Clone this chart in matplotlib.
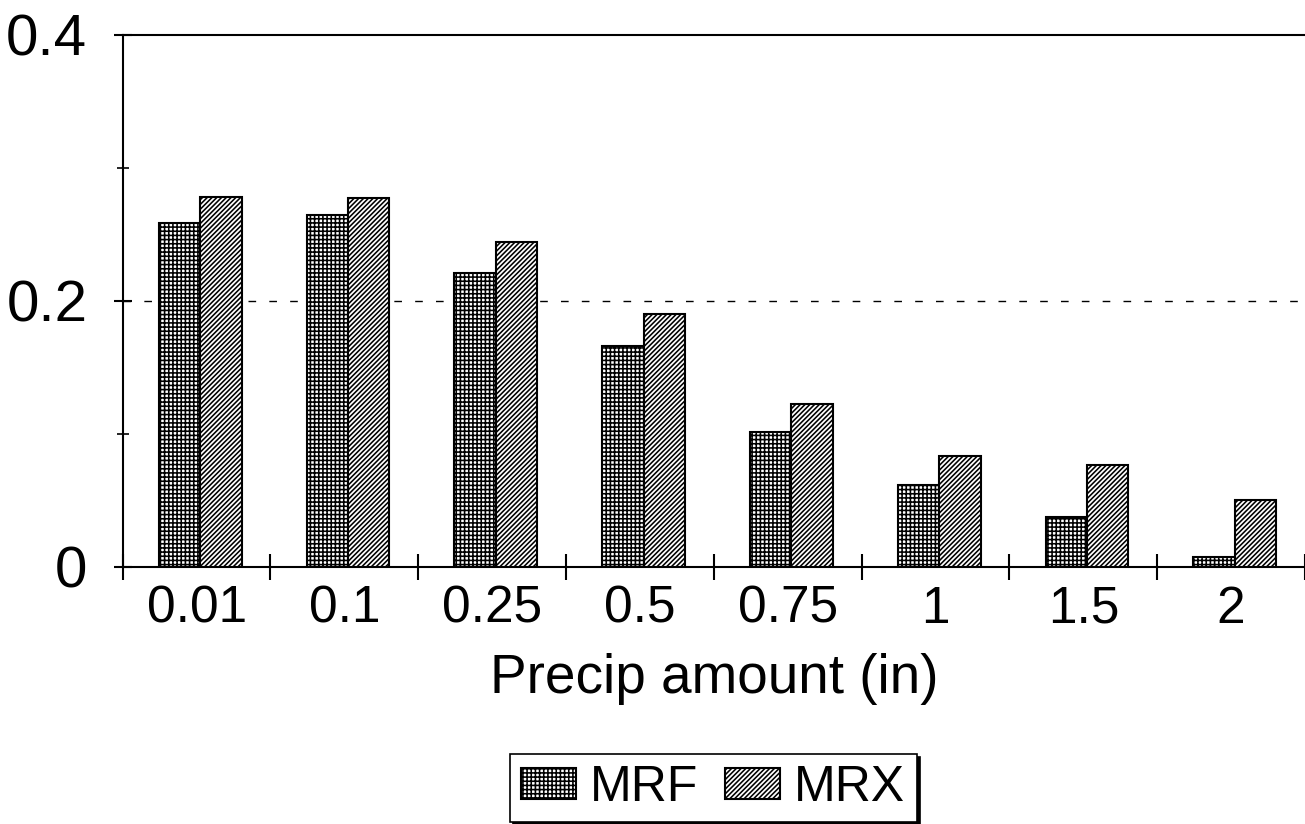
import matplotlib
matplotlib.use("Agg")
import matplotlib.pyplot as plt
from matplotlib.ticker import FixedLocator, NullFormatter
import numpy as np

categories = ["0.01", "0.1", "0.25", "0.5", "0.75", "1", "1.5", "2"]
mrf = [0.258, 0.264, 0.221, 0.166, 0.101, 0.061, 0.037, 0.007]
mrx = [0.278, 0.277, 0.244, 0.190, 0.122, 0.083, 0.076, 0.050]
series_names = ["MRF", "MRX"]
y_major = [0, 0.2, 0.4]
y_major_labels = ["0", "0.2", "0.4"]
y_minor = [0.1, 0.3]

plt.rcParams['font.family'] = ['Liberation Sans', 'DejaVu Sans']
plt.rcParams['hatch.linewidth'] = 1.15
plt.rcParams['hatch.color'] = 'black'

fig = plt.figure(figsize=(13.05, 8.24), dpi=100)
ax = fig.add_axes([122.7 / 1305, 257.5 / 824, 1 - 122.7 / 1305, (789.5 - 257.5) / 824])

x = np.arange(len(categories))
w = 0.28
shift = 0.025
b1 = ax.bar(x + shift - w / 2, mrf, width=w, facecolor='white', edgecolor='black',
            hatch='++++', linewidth=1.5, label=series_names[0], zorder=3)
b2 = ax.bar(x + shift + w / 2, mrx, width=w, facecolor='white', edgecolor='black',
            hatch='///////', linewidth=1.5, label=series_names[1], zorder=3)

ax.axhline(0.2, color='black', linewidth=1.0, dashes=(5.5, 9.5), zorder=1)

ax.set_xlim(-0.5, len(categories) - 0.5)
ax.set_ylim(0, 0.4)

ax.spines['right'].set_visible(False)
for s in ['left', 'top', 'bottom']:
    ax.spines[s].set_linewidth(1.5)

# x: boundary tick marks, labels at centers
ax.xaxis.set_major_locator(FixedLocator(np.arange(-0.5, len(categories), 1.0)))
ax.xaxis.set_major_formatter(NullFormatter())
ax.set_xticks(x, labels=categories, minor=True)
ax.tick_params(axis='x', which='major', direction='inout', length=19, width=1.5)
ax.tick_params(axis='x', which='minor', length=0, pad=13, labelsize=37)

ax.set_yticks(y_major, labels=y_major_labels)
ax.yaxis.set_minor_locator(FixedLocator(y_minor))
ax.tick_params(axis='y', which='major', direction='inout', length=13, width=1.5,
               pad=19, labelsize=42)
ax.tick_params(axis='y', which='minor', direction='inout', length=9, width=1.2)

ax.set_xlabel("Precip amount (in)", fontsize=39.5, labelpad=14)

leg = fig.legend(handles=[b1, b2], labels=series_names, loc='center',
                 bbox_to_anchor=(713 / 1305, 1 - 788 / 824), ncol=2, fontsize=36,
                 frameon=True, fancybox=False, edgecolor='black',
                 handlelength=1.1, handleheight=0.6, handletextpad=0.28,
                 columnspacing=0.55, borderpad=0.22, borderaxespad=0,
                 shadow={'color': 'black', 'alpha': 1, 'ox': 2.5, 'oy': -2})
leg.get_frame().set_linewidth(1.2)

fig.savefig("out.png", dpi=100)
